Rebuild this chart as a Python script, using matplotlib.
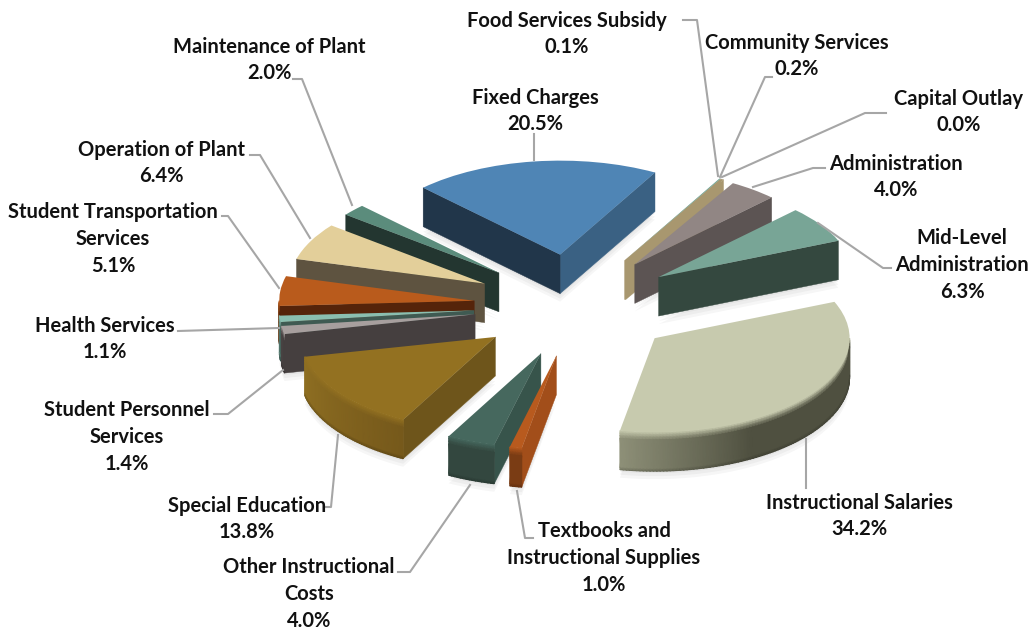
import numpy as np
import matplotlib
matplotlib.use("Agg")
import matplotlib.pyplot as plt
from matplotlib.colors import to_rgb
from matplotlib.lines import Line2D

plt.rcParams['font.family'] = ['Lato', 'DejaVu Sans']

W, H = 1032, 629

# budget shares, clockwise from the back of the pie
names = ["Fixed Charges", "Food Services Subsidy", "Community Services", "Capital Outlay",
         "Administration", "Mid-Level\nAdministration", "Instructional Salaries",
         "Textbooks and\nInstructional Supplies", "Other Instructional\nCosts",
         "Special Education", "Student Personnel\nServices", "Health Services",
         "Student Transportation\nServices", "Operation of Plant", "Maintenance of Plant"]
shares = [20.5, 0.1, 0.2, 0.0, 4.0, 6.3, 34.2, 1.0, 4.0, 13.8, 1.4, 1.1, 5.1, 6.4, 2.0]

# top face, wall on the high-angle side, wall on the low-angle side
top_colors = ["#4F85B5", "#6FA596", "#A8976F", "#918684", "#918684", "#78A596", "#C7CAAE", "#B85A1E",
              "#46685E", "#937121", "#A79F9E", "#8ABFB0", "#B95B1C", "#E3CF9A", "#5B8C7C"]
wall_hi = ["#21364A", "#3A3A20", "#3A3A20", "#5C5453", "#5C5453", "#34483F", "#4F5040", "#A24E1A",
           "#37544B", "#6E551B", "#453F3F", "#3F5A52", "#55240A", "#5E5340", "#233630"]
wall_lo = ["#3A6183", "#A8976F", "#A8976F", "#5C5453", "#5C5453", "#34483F", "#4F5040", "#A24E1A",
           "#37544B", "#6E551B", "#453F3F", "#3F5A52", "#55240A", "#5E5340", "#233630"]
# rim colour at the left end of the visible arc and further along it
rim_start = ["#21364A", "#3A3A20", "#A8976F", "#5C5453", "#5C5453", "#34483F", "#8E9078", "#7A3C14",
             "#33473F", "#8F6F22", "#4A4444", "#6F9A8E", "#8A4415", "#5E5340", "#233630"]
rim_end = ["#3A6183", "#3A3A20", "#A8976F", "#5C5453", "#5C5453", "#34483F", "#4F5040", "#7A3C14",
           "#33473F", "#76591B", "#453F3F", "#3F5A52", "#55240A", "#5E5340", "#233630"]
rim_knee = [1, 1, 1, 1, 1, 1, 0.4, 1, 1, 1, 1, 1, 1, 1, 1]

# small pixel offsets per slice, near slices sit a little lower than a flat ellipse puts them
nudge = [(0, 0), (0, 0), (0, 0), (0, 0), (-2, 0), (-1, 1), (0, 3), (4, 3),
         (4, 3), (4, 3), (3, 2), (3, 2), (3, 2), (3, 2), (2, 2)]

# label centres and leader lines, in pixels from the top left
label_pos = [(535, 111), (567, 34), (797, 56), (959, 112), (896, 177), (962, 265), (859, 516), (604, 558),
             (309, 594), (247, 519), (127, 437), (105, 339), (113, 239), (161, 163), (269, 60)]
leaders = [
    [(534, 160), (534, 134)],
    [(718, 176), (697, 20), (683, 20)],
    [(720, 177), (765, 77), (772, 77)],
    [(722, 177), (865, 113), (886, 113)],
    [(753, 187), (813, 168), (825, 168)],
    [(818, 223), (883, 268), (891, 268)],
    [(806, 439), (806, 488)],
    [(517, 491), (525, 538), (533, 538)],
    [(470, 485), (410, 572), (398, 572)],
    [(338, 435), (331, 507), (326, 507)],
    [(283, 370), (228, 414), (214, 414)],
    [(279, 328), (178, 331)],
    [(279, 288), (228, 216), (222, 216)],
    [(310, 238), (260, 155), (250, 155)],
    [(352, 205), (302, 79), (293, 79)],
]

CX, CY = 574, 304   # pie centre
RX, RY = 195, 94    # squashed radii
DEPTH = 39 / RY     # pie thickness in data units
EXPLODE = 0.53
START = 134.6


def mix(a, b, t):
    a, b = np.array(to_rgb(a)), np.array(to_rgb(b))
    return a + (b - a) * t


def draw_rim(ax, w, idx, zorder):
    # outer wall as a smooth mesh so it can carry a bevel and a gradient
    t1 = w.theta1 % 360
    t2 = t1 + (w.theta2 - w.theta1)
    lo, hi = max(t1, 180), min(t2, 360)
    if hi <= lo:
        lo, hi = max(t1, 540), min(t2, 720)
    if hi <= lo:
        return
    ths = np.linspace(lo, hi, max(3, int(hi - lo) + 2))
    levels = np.array([0, .06, .12, .2, .94, 1.0])
    X = np.zeros((len(levels), len(ths)))
    Y = np.zeros_like(X)
    C = np.zeros(X.shape + (3,))
    for j, th in enumerate(ths):
        t = min((th - lo) / (hi - lo) / rim_knee[idx], 1)
        base = mix(rim_start[idx], rim_end[idx], t)
        for k, lev in enumerate(levels):
            X[k, j] = w.center[0] + np.cos(np.radians(th))
            Y[k, j] = w.center[1] + np.sin(np.radians(th)) - lev * DEPTH
            c = mix(top_colors[idx], base, min(lev / 0.2, 1))
            if lev == 1.0:
                c = mix(c, "#000000", .2)
            C[k, j] = c
    ax.pcolormesh(X, Y, C, shading='gouraud', zorder=zorder)


fig = plt.figure(figsize=(W / 100, H / 100), dpi=100)
ax = fig.add_axes([0, 0, 1, 1])

wedges, _ = ax.pie(shares, explode=[EXPLODE] * len(shares), startangle=START, counterclock=False,
                   colors=top_colors, radius=1, frame=False,
                   wedgeprops={'linewidth': 0})

for w, (dx, dy) in zip(wedges, nudge):
    w.set_center((w.center[0] + dx / RX, w.center[1] - dy / RY))

# far slices are painted first
order = sorted(range(len(wedges)), key=lambda i: -wedges[i].center[1])
z = 2
for i in order:
    w = wedges[i]
    if shares[i] == 0:
        w.set_visible(False)
        continue
    cx, cy = w.center
    # soft shadow under the slice
    ths = np.radians(np.linspace(w.theta1, w.theta2, 40))
    sx = np.r_[cx, cx + np.cos(ths)]
    sy = np.r_[cy, cy + np.sin(ths)]
    for px in (2, 5, 8):
        ax.fill(sx, sy - DEPTH - px / RY, color='#000000', alpha=0.035, lw=0, zorder=1)
    for theta, color, normal in ((w.theta1, wall_lo[i], w.theta1 - 90), (w.theta2, wall_hi[i], w.theta2 + 90)):
        if np.sin(np.radians(normal)) >= 0:
            continue
        ex, ey = cx + np.cos(np.radians(theta)), cy + np.sin(np.radians(theta))
        ax.fill([cx, ex, ex, cx], [cy, ey, ey - DEPTH, cy - DEPTH], color=color, lw=0.3, zorder=z)
    draw_rim(ax, w, i, z + 1)
    w.set_zorder(z + 2)
    z += 3

# squash the circle into an ellipse through the axis limits
ax.set_aspect('auto')
ax.set_xlim(-CX / RX, (W - CX) / RX)
ax.set_ylim(-(H - CY) / RY, CY / RY)
ax.axis('off')

for (name, share, pos) in zip(names, shares, label_pos):
    fig.text(pos[0] / W, 1 - pos[1] / H, f"{name}\n{share:.1f}%", ha='center', va='center',
             fontsize=14.5, fontweight='bold', color='#111111', linespacing=1.43)

for path in leaders:
    xs = [p[0] / W for p in path]
    ys = [1 - p[1] / H for p in path]
    fig.add_artist(Line2D(xs, ys, color='#A6A6A6', lw=1.5, transform=fig.transFigure))

fig.savefig("out.png", dpi=100)
